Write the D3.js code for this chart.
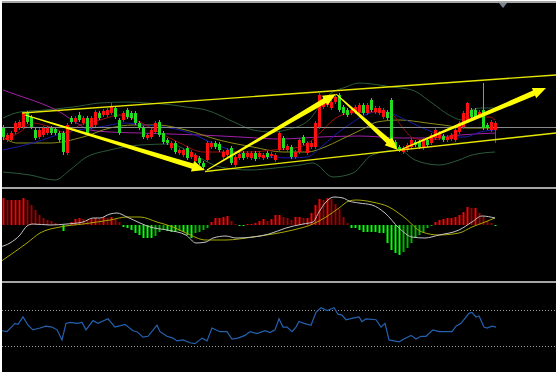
<!DOCTYPE html>
<html>
<head>
<meta charset="utf-8">
<script src="https://cdn.jsdelivr.net/npm/d3@7"></script>
<style>
  body { margin: 0; background: #fff; }
  svg { display: block; }
</style>
</head>
<body>
<svg id="chart" width="558" height="374"></svg>
<script>
// candles as [open, high, low, close], one per bar
const candles = [
  [72,75,60,63],[60,67,58,65],[60,69,58,67],[68,79,66,77],[72,80,70,78],[73,88,71,87],[87,89,76,78],[83,85,71,73],
  [70,72,60,62],[63,72,61,70],[65,74,63,72],[67,74,65,72],[72,74,65,67],[71,73,65,67],[67,69,58,60],[67,69,45,48],
  [47,77,45,75],[82,84,76,78],[78,84,76,82],[85,88,78,80],[77,84,75,82],[82,84,65,67],[73,84,71,82],[75,90,73,88],
  [87,89,80,82],[85,91,83,89],[85,92,83,90],[87,97,85,93],[92,94,81,83],[80,82,65,67],[80,89,78,87],[90,92,81,83],
  [87,89,80,82],[87,89,75,77],[77,79,70,72],[72,74,61,63],[62,67,60,65],[63,72,61,70],[68,79,66,77],[78,80,63,65],
  [67,69,56,58],[60,62,55,57],[52,59,50,57],[57,59,46,48],[47,52,45,50],[45,52,43,50],[52,54,40,42],[43,50,41,48],
  [39,47,37,45],[42,44,35,37],[37,39,31,33],[40,59,38,57],[53,59,51,57],[57,59,51,53],[56,58,48,50],[43,50,41,48],
  [45,52,43,50],[52,54,35,37],[35,45,33,43],[42,48,40,46],[47,49,40,42],[43,49,41,47],[42,49,40,47],[47,49,39,41],
  [43,49,41,47],[42,47,40,45],[47,49,41,43],[44,48,42,46],[40,47,38,45],[50,69,48,67],[62,64,50,52],[50,56,48,54],
  [53,55,41,43],[43,50,41,48],[48,62,46,60],[63,65,55,57],[47,59,45,57],[53,59,51,57],[53,79,51,77],[73,107,71,105],
  [93,102,91,100],[95,102,93,100],[92,100,90,98],[98,105,96,103],[105,107,88,90],[93,95,85,87],[90,92,83,85],[87,92,85,90],
  [88,95,86,93],[88,97,86,95],[95,97,85,87],[87,97,85,95],[100,102,88,90],[88,94,86,92],[87,94,85,92],[83,92,81,90],
  [88,90,80,82],[100,102,58,60],[58,60,51,53],[53,55,48,50],[48,54,46,52],[50,57,48,55],[53,62,51,60],[58,60,53,55],
  [58,60,51,53],[52,62,50,60],[60,62,53,55],[57,67,55,65],[62,72,60,70],[62,69,60,67],[64,66,58,60],[60,65,58,63],
  [61,67,59,65],[60,72,58,70],[68,79,66,77],[73,89,71,87],[80,98,78,97],[90,92,81,83],[90,92,81,83],[85,90,83,88],
  [90,117,70,72],[75,77,70,72],[70,80,68,78],[70,79,57,77]
];
const lastPrice = 73;

// moving averages and bands, as [bar, price]
const maPurple = [[0,110],[4.25,104],[9.25,97],[14.25,88],[18,78],[21.75,70],[26.75,68],[34.25,67],[41.75,66],[49.25,65],
  [59.25,63],[69.25,61],[79.25,63],[89.25,64],[99.25,62],[106.75,62],[114.25,65],[123,67]];
const maBlue = [[0,50],[7.5,57],[16,68],[24.25,73],[30.5,77],[35.5,75],[41.75,72],[46.75,67],[51.75,58],[56.75,50],
  [61.75,45],[66.75,43],[71.75,42],[76,43],[79.25,52],[83,65],[86.75,76],[90,84],[94.25,89],[98,85],[101.75,78],
  [106.75,69],[111.75,63],[115.5,63],[119.25,68],[123,70]];
const maOlive = [[0,63],[3.5,57],[11.75,57],[20,63],[26.75,72],[32.5,75],[38.5,75],[45.75,70],[54,60],[62.5,53],
  [70,48],[76,48],[80.5,53],[84.25,60],[90.5,72],[93.5,78],[99.25,80],[106,77],[110,75],[116,72],[123,72]];
const maRed = [[0,60],[4.25,68],[7.5,77],[11.75,73],[16,67],[19.25,75],[24.25,80],[29.25,85],[34.25,78],[39.25,67],
  [44.25,57],[50,48],[56,48],[61.75,48],[67.5,50],[74.25,53],[79.25,67],[82.5,80],[86.75,87],[94.25,88],[96.75,87],
  [100,72],[102.5,62],[106,60],[111,63],[114.25,70],[117.5,83],[121.75,83],[123,80]];
const bandUpper = [[0,82],[4.25,88],[10.5,90],[17.5,93],[24.25,97],[31,98],[36,97],[42.5,95],[45.75,93],[50.75,90],
  [58.25,77],[62.5,70],[67.5,68],[70.75,70],[76.5,80],[79,93],[81.5,105],[85.75,113],[89,117],[92.25,116],[97.25,113],
  [102.25,110],[107.25,97],[111.5,85],[114.75,80],[117.25,90],[119.75,92],[123,92]];
const bandLower = [[0,28],[6.75,25],[13,20],[16.75,30],[20.5,42],[26.75,50],[34.25,55],[41.75,56],[45.75,50],[49.25,42],
  [54.25,33],[61.75,30],[68,32],[74.25,35],[77.5,37],[82.5,23],[87.5,27],[92.25,45],[99,50],[103,40],[109,35],
  [114,40],[117.25,45],[123,48]];

// drawn objects: trend channel and arrows, [bar, price]
const channelUpper = [[4.75,87],[138.25,125]];
const channelLower = [[50.5,28.5],[138.25,67]];
const arrows = [
  [[5.5,85],[50.5,30]],
  [[51,30],[83.25,106]],
  [[83.25,106],[98.75,50]],
  [[99.25,50],[135.75,112]]
];

// MACD histogram, one per bar
const macdHist = [27,25,25,25,25,27,25,20,15,10,7,5,4,2,1,-6,-1,3,6,7,6,5,6,7,6,8,7,8,6,3,-2,-3,-5,-8,-10,-13,-13,-13,-11,-7,-5,-6,-7,-7,-6,-7,
  -10,-13,-8,-7,-5,-3,3,7,7,8,9,4,1,-1,-1,1,1,2,4,6,4,6,10,10,8,7,5,8,8,7,7,12,20,26,25,27,26,21,16,8,2,-3,-3,-5,-7,-7,
  -7,-7,-8,-8,-18,-25,-28,-30,-27,-23,-18,-13,-10,-7,-3,-1,3,5,6,7,7,8,10,13,18,17,17,12,8,4,2,-1];
const macdLine = [[-0.75,-22],[1.75,-18],[4.25,-10],[6,-1],[7.5,1],[11.75,0],[16,1],[20,3],[22.5,7],[24.25,7],[26.75,11],
  [28.5,12],[31,8],[34.25,2],[36.75,-2],[41,-5],[45.75,-10],[48.25,-18],[50.75,-17],[52.5,-13],[55.75,-11],[58.25,-13],
  [62.5,-12],[66.5,-9],[70.75,-3],[75,1],[77.5,3],[79,13],[80.75,23],[82.75,28],[85,27],[86.5,24],[89,22],[92.25,20],
  [95.5,12],[99,-3],[102.25,-12],[105.5,-13],[109,-10],[114,-5],[117.25,3],[119.75,9],[123,7]];
const signalLine = [[-0.75,-37],[2.5,-28],[6,-18],[9.25,-8],[14.25,-2],[20,1],[26.75,5],[31,8],[34.25,8],[38.5,3],
  [42.5,-2],[45.75,-8],[50.75,-15],[55.75,-15],[62.5,-12],[67.5,-9],[72.5,-5],[77.5,1],[80.75,8],[84,17],[86.5,24],
  [88.25,25],[92.25,23],[96.5,18],[100.5,7],[104.75,-7],[109,-10],[114,-8],[117.25,-2],[120.5,3],[123,7]];

// RSI
const rsiLevels = [70, 30];
const rsiLine = [[-0.25,47],[1,46],[3,55],[3.75,54],[5,62],[6.25,53],[7.5,48],[9.25,50],[10.75,52],[12.25,51],[13.5,48],
  [14.75,37],[15.75,55],[16.75,56],[18.5,55],[19.75,56],[20.75,48],[22.5,58],[23.75,55],[26.25,60],[28,51],[30.5,54],
  [32.5,47],[33.5,46],[35,40],[36.25,41],[38.5,53],[39.25,46],[41,41],[42.5,39],[43.5,36],[45,37],[46.75,34],[48,33],
  [49.75,39],[51,36],[52.25,50],[54.25,46],[56,46],[57.25,38],[58.75,39],[60.5,42],[61.75,46],[63.5,44],[65.5,47],
  [66.75,45],[68,48],[69,60],[70,51],[71,51],[72.25,46],[73.25,51],[74,57],[75.25,55],[77,53],[78.25,67],[79.5,72],
  [81,69],[82.75,72],[83.75,65],[84.75,64],[85.75,59],[87.75,61],[89,62],[89.75,57],[90.75,60],[93.25,59],[94.5,51],
  [95.5,55],[96.5,37],[99,35],[100.25,38],[102,42],[103.25,38],[104.5,41],[105.75,41],[107.5,48],[109,46],[112.25,46],
  [113.25,52],[114.5,55],[116.5,66],[117.25,67],[118.25,62],[119,63],[120.25,51],[121,50],[122.25,52],[123.25,51]];

const svg = d3.select("#chart");

const x = d3.scaleLinear().domain([0, 138]).range([3, 555]);
const yMain = d3.scaleLinear().domain([0, 197]).range([200, 3]);
const yMacd = d3.scaleLinear().domain([-55, 35]).range([280, 190]);
const yRsi = d3.scaleLinear().domain([0, 100]).range([374, 282]);

// panels
const panels = [
  {id: "clipMain", y: 3, h: 184},
  {id: "clipMacd", y: 189, h: 92},
  {id: "clipRsi", y: 283, h: 89}
];
const defs = svg.append("defs");
panels.forEach(function(p) {
  defs.append("clipPath").attr("id", p.id)
    .append("rect").attr("x", 2).attr("y", p.y).attr("width", 554).attr("height", p.h);
});

svg.append("rect").attr("x", 2).attr("y", 1).attr("width", 554).attr("height", 371).attr("fill", "#000");
[2, 188, 282].forEach(function(yy) {
  svg.append("line").attr("x1", 2).attr("x2", 556).attr("y1", yy).attr("y2", yy)
    .attr("stroke", "#a6a6a6").attr("stroke-width", 2);
});

// ---- main panel
const main = svg.append("g").attr("clip-path", "url(#clipMain)");

const priceLine = d3.line()
  .x(function(d) { return x(d[0]); })
  .y(function(d) { return yMain(d[1]); })
  .curve(d3.curveMonotoneX);

[[bandUpper, "#2b5a3a"], [bandLower, "#2b5a3a"], [maPurple, "#a020a8"], [maOlive, "#8a8a1c"],
 [maBlue, "#1a1aaa"], [maRed, "#9a1010"]].forEach(function(s) {
  main.append("path").datum(s[0])
    .attr("d", priceLine)
    .attr("fill", "none")
    .attr("stroke", s[1])
    .attr("stroke-width", 1);
});

main.append("line")
  .attr("x1", 2).attr("x2", 556)
  .attr("y1", Math.round(yMain(lastPrice)) + 0.5).attr("y2", Math.round(yMain(lastPrice)) + 0.5)
  .attr("stroke", "#8a8a8a").attr("stroke-width", 1);

function candleColor(d) { return d[3] >= d[0] ? "#ff1010" : "#22dd22"; }

const candle = main.selectAll(".candle")
  .data(candles)
  .enter().append("g")
  .attr("class", "candle");

candle.append("line")
  .attr("x1", function(d, i) { return Math.round(x(i)) + 0.5; })
  .attr("x2", function(d, i) { return Math.round(x(i)) + 0.5; })
  .attr("y1", function(d) { return yMain(d[1]); })
  .attr("y2", function(d) { return yMain(d[2]); })
  .attr("stroke", candleColor);

candle.append("rect")
  .attr("x", function(d, i) { return Math.round(x(i)) - 1; })
  .attr("width", 3)
  .attr("y", function(d) { return yMain(Math.max(d[0], d[3])); })
  .attr("height", function(d) { return Math.max(1, Math.abs(yMain(d[0]) - yMain(d[3]))); })
  .attr("fill", candleColor);

// channel
const straight = d3.line()
  .x(function(d) { return x(d[0]); })
  .y(function(d) { return yMain(d[1]); });

[channelUpper, channelLower].forEach(function(c) {
  main.append("path").datum(c)
    .attr("d", straight)
    .attr("fill", "none")
    .attr("stroke", "#e6e600")
    .attr("stroke-width", 1.4);
});

// tapered arrows
function arrowPath(a) {
  let x1 = x(a[0][0]), y1 = yMain(a[0][1]);
  let x2 = x(a[1][0]), y2 = yMain(a[1][1]);
  let dx = x2 - x1, dy = y2 - y1, len = Math.sqrt(dx * dx + dy * dy);
  let ux = dx / len, uy = dy / len, nx = -uy, ny = ux;
  let headLen = 13, headW = 11, w0 = 1, w1 = 5.5;
  let bx = x2 - ux * headLen, by = y2 - uy * headLen;
  let pts = [
    [x1 + nx * w0 / 2, y1 + ny * w0 / 2],
    [bx + nx * w1 / 2, by + ny * w1 / 2],
    [bx + nx * headW / 2, by + ny * headW / 2],
    [x2, y2],
    [bx - nx * headW / 2, by - ny * headW / 2],
    [bx - nx * w1 / 2, by - ny * w1 / 2],
    [x1 - nx * w0 / 2, y1 - ny * w0 / 2]
  ];
  return "M" + pts.map(function(p) { return p[0] + "," + p[1]; }).join("L") + "Z";
}

main.selectAll(".arrow")
  .data(arrows)
  .enter().append("path")
  .attr("class", "arrow")
  .attr("d", arrowPath)
  .attr("fill", "#ffff00");

// chart shift marker
svg.append("path")
  .attr("d", "M" + (x(125) - 4) + ",3L" + (x(125) + 4) + ",3L" + x(125) + ",8Z")
  .attr("fill", "#7a8490");

// ---- MACD panel
const macd = svg.append("g").attr("clip-path", "url(#clipMacd)");

macd.selectAll(".bar")
  .data(macdHist)
  .enter().append("rect")
  .attr("class", "bar")
  .attr("x", function(d, i) { return Math.round(x(i)) - 0.5; })
  .attr("width", 2)
  .attr("y", function(d) { return yMacd(Math.max(0, d)); })
  .attr("height", function(d) { return Math.max(1, Math.abs(yMacd(d) - yMacd(0))); })
  .attr("fill", function(d, i) {
    let prev = i > 0 ? macdHist[i - 1] : d;
    if (d >= 0) return d >= prev ? "#ff0000" : "#9c0000";
    return d <= prev ? "#00ff00" : "#00b400";
  });

const macdPath = d3.line()
  .x(function(d) { return x(d[0]); })
  .y(function(d) { return yMacd(d[1]); })
  .curve(d3.curveMonotoneX);

macd.append("path").datum(signalLine)
  .attr("d", macdPath).attr("fill", "none").attr("stroke", "#a8a800").attr("stroke-width", 1);
macd.append("path").datum(macdLine)
  .attr("d", macdPath).attr("fill", "none").attr("stroke", "#c4c4c4").attr("stroke-width", 1);

// ---- RSI panel
const rsi = svg.append("g").attr("clip-path", "url(#clipRsi)");

rsi.selectAll(".level")
  .data(rsiLevels)
  .enter().append("line")
  .attr("class", "level")
  .attr("x1", 2).attr("x2", 556)
  .attr("y1", function(d) { return Math.round(yRsi(d)) + 0.5; })
  .attr("y2", function(d) { return Math.round(yRsi(d)) + 0.5; })
  .attr("stroke", "#9a9a9a")
  .attr("stroke-dasharray", "1,2");

rsi.append("path").datum(rsiLine)
  .attr("d", d3.line()
    .x(function(d) { return x(d[0]); })
    .y(function(d) { return yRsi(d[1]); }))
  .attr("fill", "none")
  .attr("stroke", "#2462b0")
  .attr("stroke-width", 1.2);
</script>
</body>
</html>
